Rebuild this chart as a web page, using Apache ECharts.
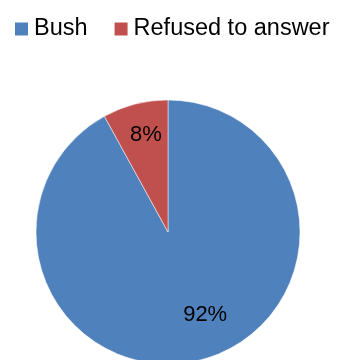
<!DOCTYPE html>
<html><head><meta charset="utf-8">
<script src="https://cdn.jsdelivr.net/npm/echarts@6/dist/echarts.min.js"></script>
<style>html,body{margin:0;padding:0;background:#fff}#c{width:339px;height:360px}</style>
</head><body><div id="c"></div>
<script>
const categories = ['Bush', 'Refused to answer'];
const values = [92, 8];
const colors = ['#4F81BD', '#C0504D'];
const labelShift = [[20, 16], [-5, -30]];

const chart = echarts.init(document.getElementById('c'), null, {renderer: 'canvas'});
chart.setOption({
  animation: false,
  color: colors,
  legend: {
    top: 12, left: 8,
    itemWidth: 15, itemHeight: 15, itemGap: 25,
    icon: 'rect',
    textStyle: {fontFamily: 'Liberation Sans, Arial, sans-serif', fontSize: 23.5, color: '#000'},
    data: categories
  },
  series: [{
    type: 'pie',
    center: [168, 232],
    radius: [0, 132],
    startAngle: 90,
    clockwise: true,
    itemStyle: {borderColor: '#fff', borderWidth: 0.5},
    label: {
      show: true, position: 'inside',
      formatter: p => p.value + '%',
      fontFamily: 'Liberation Sans, Arial, sans-serif', fontSize: 22, color: '#000'
    },
    labelLayout: p => ({dx: labelShift[p.dataIndex][0], dy: labelShift[p.dataIndex][1]}),
    emphasis: {disabled: true},
    data: categories.map((n, i) => ({name: n, value: values[i]}))
  }]
});
</script></body></html>
